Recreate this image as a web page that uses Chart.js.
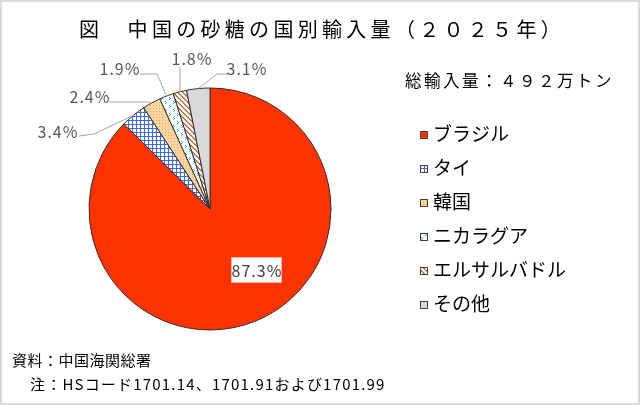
<!DOCTYPE html>
<html>
<head>
<meta charset="utf-8">
<script src="https://cdn.jsdelivr.net/npm/chart.js@4/dist/chart.umd.min.js"></script>
<style>
  html, body { margin: 0; padding: 0; background: #fff; }
  #wrap { width: 640px; height: 405px; }
</style>
</head>
<body>
<div id="wrap"><canvas id="chart" width="640" height="405"></canvas></div>
<script>
// data
const countries = ['ブラジル', 'タイ', '韓国', 'ニカラグア', 'エルサルバドル', 'その他'];
const shares = [87.3, 3.4, 2.4, 1.9, 1.8, 3.1];
const shareLabels = ['87.3%', '3.4%', '2.4%', '1.9%', '1.8%', '3.1%'];
const titleText = '図　中国の砂糖の国別輸入量（２０２５年）';
const totalText = '総輸入量：４９２万トン';
const sourceNote = '資料：中国海関総署';
const hsNote = '注：HSコード1701.14、1701.91および1701.99';

const JP = '"Noto Sans CJK JP", "Noto Sans", sans-serif';
const NARROW = '"Liberation Sans Narrow", "Noto Sans CJK JP", sans-serif';

// fill patterns like the excel ones
function makePattern(kind) {
  const c = document.createElement('canvas');
  const g = c.getContext('2d');
  if (kind === 'grid') {
    c.width = 4; c.height = 4;
    g.fillStyle = '#ffffff'; g.fillRect(0, 0, 4, 4);
    g.fillStyle = '#3b6cf0';
    g.fillRect(0, 0, 4, 1); g.fillRect(0, 0, 1, 4);
  } else if (kind === 'dots') {
    c.width = 3; c.height = 3;
    g.fillStyle = '#ffd7a3'; g.fillRect(0, 0, 3, 3);
    g.fillStyle = '#f5a24c';
    g.fillRect(0, 0, 1, 1);
  } else if (kind === 'teal') {
    c.width = 8; c.height = 8;
    g.fillStyle = '#ffffff'; g.fillRect(0, 0, 8, 8);
    g.fillStyle = '#22b3b3';
    g.fillRect(1, 1, 1, 1); g.fillRect(2, 2, 1, 1); g.fillRect(1, 3, 1, 1);
    g.fillRect(5, 5, 1, 1); g.fillRect(6, 6, 1, 1); g.fillRect(5, 7, 1, 1);
  } else if (kind === 'stripes') {
    c.width = 5; c.height = 5;
    g.fillStyle = '#ffffff'; g.fillRect(0, 0, 5, 5);
    g.fillStyle = '#c27a4c';
    for (let i = 0; i < 5; i++) {
      g.fillRect(i, i, 1, 1);
      g.fillRect((i + 1) % 5, i, 1, 1);
    }
  }
  return g.createPattern(c, 'repeat');
}

const fills = [
  '#ff3300',
  makePattern('grid'),
  makePattern('dots'),
  makePattern('teal'),
  makePattern('stripes'),
  '#d9d9d9'
];

// label layout: text centre and leader line start / elbow
const outerLabels = [
  null,
  { tx: 58, ty: 132, line: [[79, 136], [94, 134]] },
  { tx: 90, ty: 97, line: [[109, 102], [148, 102]] },
  { tx: 120, ty: 69, line: [[140, 74], [157, 74]] },
  { tx: 192, ty: 59, line: [[180, 67]] },
  { tx: 247, ty: 69, line: [[228, 74], [217, 74]] }
];

const decorPlugin = {
  id: 'decor',
  beforeDraw(chart) {
    const ctx = chart.ctx;
    ctx.save();
    ctx.fillStyle = '#ffffff';
    ctx.fillRect(0, 0, chart.width, chart.height);
    ctx.strokeStyle = '#d9d9d9';
    ctx.lineWidth = 2;
    ctx.strokeRect(1, 1, chart.width - 2, chart.height - 2);
    ctx.restore();
  },
  afterDatasetsDraw(chart) {
    const ctx = chart.ctx;
    const meta = chart.getDatasetMeta(0);
    ctx.save();

    // title
    ctx.fillStyle = '#000';
    ctx.textBaseline = 'middle';
    ctx.textAlign = 'left';
    ctx.font = '20px ' + JP;
    ctx.letterSpacing = '4.3px';
    ctx.fillText(titleText, 79, 29);
    ctx.letterSpacing = '0px';

    // total
    ctx.font = '16.5px ' + JP;
    ctx.letterSpacing = '2.5px';
    ctx.fillText(totalText, 405, 81);
    ctx.letterSpacing = '0px';

    // legend
    ctx.font = '19px ' + JP;
    countries.forEach((name, i) => {
      const y = 134 + i * 34;
      ctx.fillStyle = fills[i];
      ctx.fillRect(420, y - 3, 8, 8);
      ctx.strokeStyle = '#404040';
      ctx.lineWidth = 1;
      ctx.strokeRect(420.5, y - 2.5, 7, 7);
      ctx.fillStyle = '#000';
      ctx.fillText(name, 433, y);
    });

    // notes
    ctx.font = '15px ' + JP;
    ctx.letterSpacing = '0.5px';
    ctx.fillText(sourceNote, 12, 360);
    ctx.font = '15px ' + NARROW;
    ctx.letterSpacing = '1.2px';
    ctx.fillText(hsNote, 30, 384);
    ctx.letterSpacing = '0px';

    // percent labels
    meta.data.forEach((arc, i) => {
      const p = arc.getProps(['x', 'y', 'startAngle', 'endAngle', 'outerRadius'], true);
      const mid = (p.startAngle + p.endAngle) / 2;
      const ax = p.x + Math.cos(mid) * p.outerRadius;
      const ay = p.y + Math.sin(mid) * p.outerRadius;
      ctx.font = '16px ' + NARROW;
      ctx.letterSpacing = '1px';
      ctx.textAlign = 'center';
      if (i === 0) {
        const bx = p.x + 46, by = p.y + 61;
        ctx.fillStyle = '#fff';
        ctx.fillRect(bx - 25, by - 13, 51, 26);
        ctx.strokeStyle = '#f4b0a0';
        ctx.lineWidth = 1;
        ctx.strokeRect(bx - 24.5, by - 12.5, 50, 25);
        ctx.fillStyle = '#404040';
        ctx.fillText(shareLabels[i], bx + 1, by + 1);
        return;
      }
      const L = outerLabels[i];
      ctx.strokeStyle = '#a6a6a6';
      ctx.lineWidth = 1;
      ctx.beginPath();
      ctx.moveTo(L.line[0][0], L.line[0][1]);
      for (let k = 1; k < L.line.length; k++) ctx.lineTo(L.line[k][0], L.line[k][1]);
      ctx.lineTo(ax, ay);
      ctx.stroke();
      ctx.fillStyle = '#595959';
      ctx.fillText(shareLabels[i], L.tx, L.ty);
    });
    ctx.letterSpacing = '0px';
    ctx.restore();
  }
};

new Chart(document.getElementById('chart'), {
  type: 'pie',
  data: {
    labels: countries,
    datasets: [{
      data: shares,
      backgroundColor: fills,
      borderColor: '#303030',
      borderWidth: 1
    }]
  },
  options: {
    responsive: false,
    animation: false,
    layout: { padding: { left: 88.5, top: 87.5, right: 308.5, bottom: 74.5 } },
    plugins: {
      legend: { display: false },
      tooltip: { enabled: false },
      title: { display: false }
    }
  },
  plugins: [decorPlugin]
});
</script>
</body>
</html>
